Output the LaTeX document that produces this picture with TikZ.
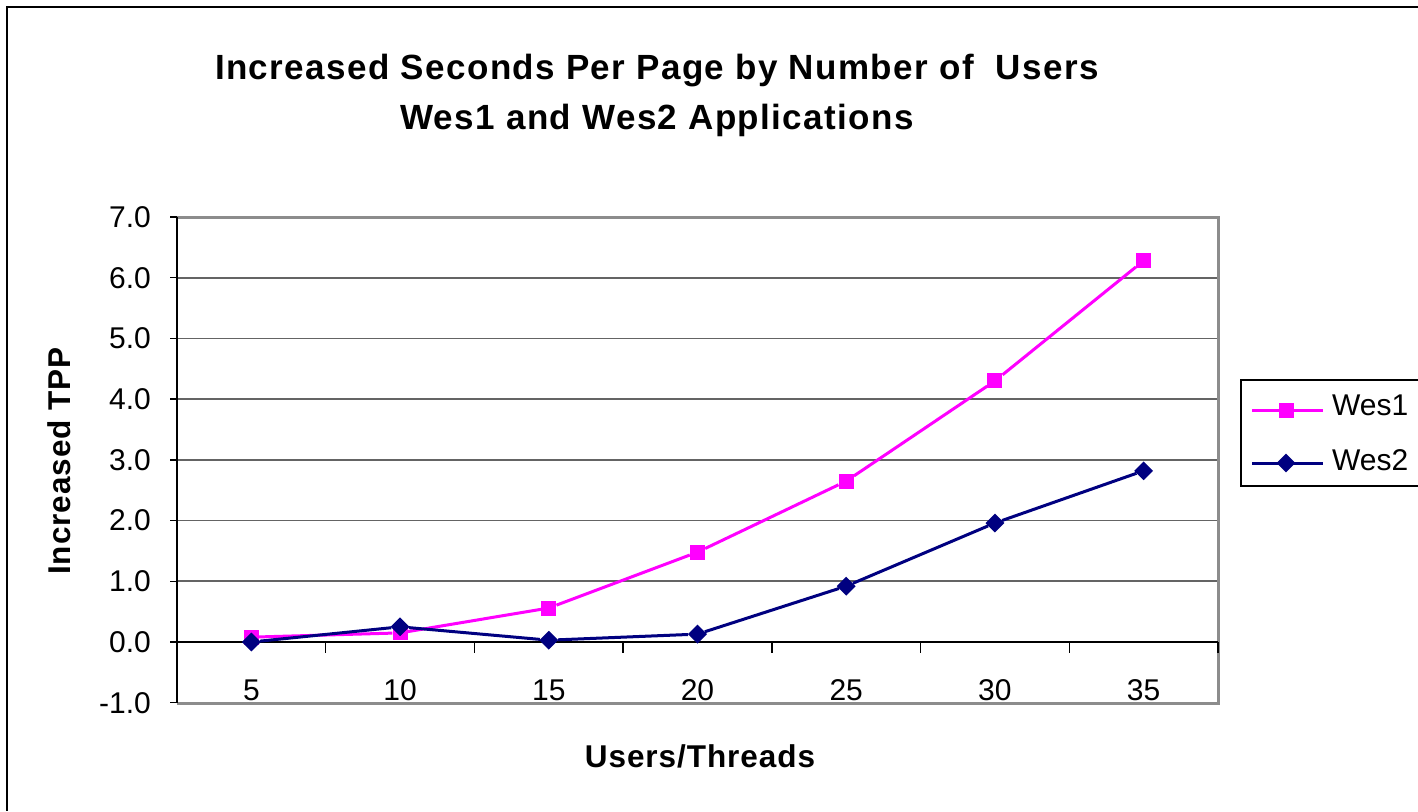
\documentclass[tikz,border=0pt]{standalone}
\usepackage{fontspec}
\setmainfont{Liberation Sans}
\usepackage{tikz}
\usetikzlibrary{shapes}
\definecolor{wes-pink}{RGB}{255,0,255}
\definecolor{wes-navy}{RGB}{0,0,128}
\definecolor{frame-gray}{RGB}{140,140,140}
\definecolor{grid-gray}{RGB}{100,100,100}
\tikzstyle{pixel}=[x=1pt, y=-1pt]
\tikzstyle{gridline}=[draw=grid-gray, line width=1.6pt]
\tikzstyle{plotframe}=[draw=frame-gray, line width=3pt]
\tikzstyle{axisline}=[draw=black, line width=1.8pt]
\tikzstyle{wesone}=[draw=wes-pink, line width=3pt]
\tikzstyle{westwo}=[draw=wes-navy, line width=3pt]
\tikzstyle{sqmark}=[rectangle, fill=wes-pink, minimum size=15pt, inner sep=0pt]
\tikzstyle{diamark}=[diamond, fill=wes-navy, minimum size=19pt, inner sep=0pt]
\tikzstyle{ticklabel}=[font=\fontsize{30}{36}\selectfont, inner sep=0pt]
\tikzstyle{axistitle}=[font=\fontsize{31.5}{38}\selectfont\bfseries\addfontfeature{LetterSpace=3}, inner sep=0pt]
\tikzstyle{charttitle}=[font=\fontsize{35}{50}\selectfont\bfseries\addfontfeature{LetterSpace=4}, align=center, inner sep=0pt]

\begin{document}
\begin{tikzpicture}[pixel]
	\useasboundingbox (0,0) rectangle (1418,811);
	\fill[white] (0,0) rectangle (1418,811);
	\draw[line width=2pt] (1418,7) -- (7,7) -- (7,811);
	% title
	\node[charttitle] (title) at (657,95) {Increased Seconds Per Page by Number of\ \ Users\\Wes1 and Wes2 Applications};
	% plot area
	\foreach \v in {1,...,6}
		\draw[gridline] (177,{642-60.71*\v}) -- (1218,{642-60.71*\v});
	\draw[plotframe] (177,217) -- (1218,217) -- (1218,703) -- (177,703);
	\draw[axisline] (177,217) -- (177,703);
	\draw[axisline] (177,642) -- (1218,642);
	\foreach \v [count=\i] in {-1.0,0.0,1.0,2.0,3.0,4.0,5.0,6.0,7.0} {
		\draw[line width=1.5pt] (170,{642-60.71*(\i-2)}) -- (177,{642-60.71*(\i-2)});
		\node[ticklabel, anchor=east] (yl\i) at (151,{642-60.71*(\i-2)}) {\v};
	}
	\foreach \c [count=\i] in {5,10,15,20,25,30,35} {
		\draw[line width=1.5pt] ({177+148.71*\i},642) -- ({177+148.71*\i},653);
		\node[ticklabel] (xl\i) at ({177+148.71*(\i-0.5)},690) {\c};
	}
	\node[axistitle, anchor=base] (xtitle) at (700,767) {Users/Threads};
	\node[axistitle, anchor=base, rotate=90] (ytitle) at (70,461) {Increased TPP};
	% Wes1
	\foreach \v [count=\i] in {0.08,0.15,0.56,1.48,2.65,4.30,6.28}
		\node[sqmark] (wa\i) at ({177+148.71*(\i-0.5)},{642-60.71*\v}) {};
	\foreach \i [remember=\i as \j (initially 1)] in {2,...,7}
		\draw[wesone] (wa\j) -- (wa\i);
	% Wes2
	\foreach \v [count=\i] in {0.0,0.25,0.03,0.13,0.92,1.96,2.82}
		\node[diamark] (wb\i) at ({177+148.71*(\i-0.5)},{642-60.71*\v}) {};
	\foreach \i [remember=\i as \j (initially 1)] in {2,...,7}
		\draw[westwo] (wb\j) -- (wb\i);
	% legend
	\draw[line width=1.5pt] (1430,380) -- (1241,380) -- (1241,486) -- (1430,486);
	\coordinate (ka0) at (1252,410);
	\coordinate (ka1) at (1323,410);
	\node[sqmark] (ka) at (1286,410) {};
	\draw[wesone] (ka0) -- (ka1);
	\node[ticklabel, anchor=base west] (kat) at (1332,415) {Wes1};
	\coordinate (kb0) at (1252,463);
	\coordinate (kb1) at (1323,463);
	\node[diamark] (kb) at (1286,463) {};
	\draw[westwo] (kb0) -- (kb1);
	\node[ticklabel, anchor=base west] (kbt) at (1332,470) {Wes2};
\end{tikzpicture}
\end{document}
